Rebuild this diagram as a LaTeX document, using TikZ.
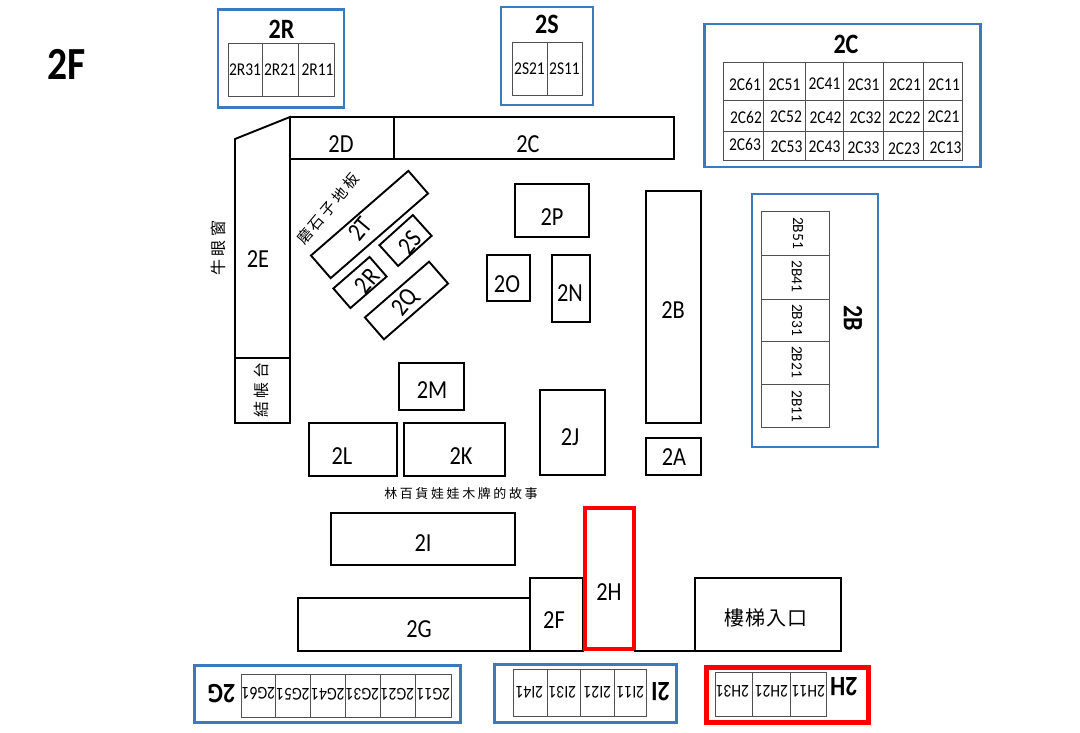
\documentclass[tikz,border=0pt]{standalone}
\usepackage{fontspec}
\setmainfont{Carlito}
\newfontfamily\narrowfont[FakeStretch=0.86]{Carlito}
\newfontfamily\cjkfont[LetterSpace=20]{Noto Sans CJK TC}
\newfontfamily\cjktight[LetterSpace=5]{Noto Sans CJK TC}
\definecolor{panelblue}{HTML}{3A7ABD}
\definecolor{celldark}{HTML}{505050}
\begin{document}
\begin{tikzpicture}[
    x=1pt, y=-1pt,
    % Define styles
    shop/.style={rectangle, draw=black, line width=1.9pt, inner sep=0pt, outer sep=0pt},
    hotshop/.style={rectangle, draw=red, line width=4.4pt, inner sep=0pt, outer sep=0pt},
    panel/.style={rectangle, draw=panelblue, line width=2.1pt, inner sep=0pt, outer sep=0pt},
    hotpanel/.style={rectangle, draw=red, line width=4.6pt, inner sep=0pt, outer sep=0pt},
    wall/.style={draw=black, line width=1.9pt, line join=miter},
    cellline/.style={draw=celldark, line width=0.9pt},
    shoptext/.style={font=\fontsize{26}{26}\selectfont\narrowfont, inner sep=0pt},
    celltext/.style={font=\fontsize{18}{18}\selectfont\narrowfont, inner sep=0pt},
    sidetext/.style={font=\fontsize{15.5}{16}\selectfont, inner sep=0pt},
    paneltitle/.style={font=\fontsize{28}{28}\selectfont\narrowfont\bfseries, inner sep=0pt},
    cjktext/.style={font=\fontsize{13}{13}\selectfont\cjkfont, inner sep=0pt},
    cjklarge/.style={font=\fontsize{16}{16}\selectfont\cjkfont, inner sep=0pt}
]
\useasboundingbox (0,0) rectangle (1080,733);

% Floor title
\node[font=\fontsize{46}{46}\selectfont\narrowfont\bfseries, inner sep=0pt] (floor_title) at (67,64) {2F};

% Panel 2R
\node[panel, minimum width=126pt, minimum height=98pt] (panel_2R) at (281,58.5) {};
\node[paneltitle] (title_2R) at (281.5,29) {2R};
\draw[cellline] (228,43) rectangle (334,96);
\draw[cellline] (262.5,43) -- (262.5,96);
\draw[cellline] (298.5,43) -- (298.5,96);
\node[celltext] (cell_2R31) at (245,69.5) {2R31};
\node[celltext] (cell_2R21) at (280,69.5) {2R21};
\node[celltext] (cell_2R11) at (317.5,69.5) {2R11};

% Panel 2S
\node[panel, minimum width=92pt, minimum height=98pt] (panel_2S) at (547,56) {};
\node[paneltitle] (title_2S) at (547,24.5) {2S};
\draw[cellline] (512,42) rectangle (582,95);
\draw[cellline] (547,42) -- (547,95);
\node[celltext] (cell_2S21) at (529.5,69) {2S21};
\node[celltext] (cell_2S11) at (564.5,69) {2S11};

% Panel 2C
\node[panel, minimum width=276pt, minimum height=143pt] (panel_2C) at (842.5,95.5) {};
\node[paneltitle] (title_2C) at (846,44) {2C};
\draw[cellline] (723.5,62.5) rectangle (962.5,160.5);
\draw[cellline] (763.5,62.5) -- (763.5,160.5);
\draw[cellline] (805.5,62.5) -- (805.5,160.5);
\draw[cellline] (843.5,62.5) -- (843.5,160.5);
\draw[cellline] (883.5,62.5) -- (883.5,160.5);
\draw[cellline] (923.5,62.5) -- (923.5,160.5);
\draw[cellline] (723,100.5) -- (962.5,100.5);
\draw[cellline] (722.5,131) -- (962.5,131);
\node[celltext] (cell_2C61) at (745,84.5) {2C61};
\node[celltext] (cell_2C51) at (784.5,84.5) {2C51};
\node[celltext] (cell_2C41) at (824.5,84) {2C41};
\node[celltext] (cell_2C31) at (863.5,85) {2C31};
\node[celltext] (cell_2C21) at (905,85) {2C21};
\node[celltext] (cell_2C11) at (944,85) {2C11};
\node[celltext] (cell_2C62) at (746,117) {2C62};
\node[celltext] (cell_2C52) at (786,116.5) {2C52};
\node[celltext] (cell_2C42) at (825.5,117.5) {2C42};
\node[celltext] (cell_2C32) at (865.5,117.5) {2C32};
\node[celltext] (cell_2C22) at (904.5,117.5) {2C22};
\node[celltext] (cell_2C21b) at (943.5,117) {2C21};
\node[celltext] (cell_2C63) at (745,144.5) {2C63};
\node[celltext] (cell_2C53) at (786.5,147) {2C53};
\node[celltext] (cell_2C43) at (824.5,146.5) {2C43};
\node[celltext] (cell_2C33) at (863.5,147.5) {2C33};
\node[celltext] (cell_2C23) at (904,148.5) {2C23};
\node[celltext] (cell_2C13) at (945.5,147.5) {2C13};

% Panel 2B
\node[panel, minimum width=126pt, minimum height=253pt] (panel_2B) at (815,320.5) {};
\node[paneltitle, rotate=-90] (title_2B) at (853,318) {2B};
\draw[cellline] (761,211) rectangle (829.5,427.5);
\draw[cellline] (761,255) -- (829.5,255);
\draw[cellline] (761,299.5) -- (829.5,299.5);
\draw[cellline] (761,341) -- (829.5,341);
\draw[cellline] (761,384.5) -- (829.5,384.5);
\node[sidetext, rotate=-90] (cell_2B51) at (798,233) {2B51};
\node[sidetext, rotate=-90] (cell_2B41) at (797,276.5) {2B41};
\node[sidetext, rotate=-90] (cell_2B31) at (797,320) {2B31};
\node[sidetext, rotate=-90] (cell_2B21) at (797,362) {2B21};
\node[sidetext, rotate=-90] (cell_2B11) at (797,406.5) {2B11};

% Panel 2G
\node[panel, minimum width=266pt, minimum height=57pt] (panel_2G) at (327.5,694) {};
\node[paneltitle, rotate=180] (title_2G) at (221.5,693.5) {2G};
\draw[cellline] (241,674) rectangle (451,717.5);
\draw[cellline] (275.5,674) -- (275.5,717.5);
\draw[cellline] (310.5,674) -- (310.5,717.5);
\draw[cellline] (345.5,674) -- (345.5,717.5);
\draw[cellline] (380,674) -- (380,717.5);
\draw[cellline] (415.5,674) -- (415.5,717.5);
\node[celltext, rotate=180] (cell_2G61) at (258.5,694) {2G61};
\node[celltext, rotate=180] (cell_2G51) at (293,694) {2G51};
\node[celltext, rotate=180] (cell_2G41) at (328,694) {2G41};
\node[celltext, rotate=180] (cell_2G31) at (362.5,694) {2G31};
\node[celltext, rotate=180] (cell_2G21) at (397.5,694) {2G21};
\node[celltext, rotate=180] (cell_2G11) at (433.5,694) {2G11};

% Panel 2I
\node[panel, minimum width=182pt, minimum height=58pt] (panel_2I) at (585.5,693.5) {};
\node[paneltitle, rotate=180] (title_2I) at (660.5,692) {2I};
\draw[cellline] (513.5,669.5) rectangle (646.5,716.5);
\draw[cellline] (547,669.5) -- (547,716.5);
\draw[cellline] (580.5,669.5) -- (580.5,716.5);
\draw[cellline] (614.5,669.5) -- (614.5,716.5);
\node[celltext, rotate=180] (cell_2I41) at (529.5,692.5) {2I41};
\node[celltext, rotate=180] (cell_2I31) at (562.5,692.5) {2I31};
\node[celltext, rotate=180] (cell_2I21) at (597.5,692.5) {2I21};
\node[celltext, rotate=180] (cell_2I11) at (630.5,692.5) {2I11};

% Panel 2H
\node[hotpanel, minimum width=162pt, minimum height=55pt] (panel_2H) at (787.5,695) {};
\node[paneltitle, rotate=180] (title_2H) at (844,687) {2H};
\draw[cellline] (715.5,672.5) rectangle (826.5,716.5);
\draw[cellline] (752.5,672.5) -- (752.5,716.5);
\draw[cellline] (790.5,672.5) -- (790.5,716.5);
\node[celltext, rotate=180] (cell_2H31) at (732.5,691.5) {2H31};
\node[celltext, rotate=180] (cell_2H21) at (771.5,691.5) {2H21};
\node[celltext, rotate=180] (cell_2H11) at (808.5,691.5) {2H11};

% Top wall shops
\node[shop, minimum width=104pt, minimum height=42pt] (box_2D) at (342,138) {};
\node[shoptext] (text_2D) at (341,144) {2D};
\node[shop, minimum width=280pt, minimum height=42pt] (box_2C) at (534,138) {};
\node[shoptext] (text_2C) at (528,144) {2C};

% Left wall shops
\draw[wall] (235,139) -- (290,117) -- (290,358) -- (235,358) -- cycle;
\node[shoptext] (text_2E) at (258,259) {2E};
\node[shop, minimum width=55pt, minimum height=65pt] (box_counter) at (262.5,390.5) {};
\node[cjklarge, rotate=90] (text_counter) at (261,390) {結帳台};
\node[cjklarge, rotate=90] (text_window) at (218,248) {牛眼窗};

% Tilted shops
\node[cjklarge, font=\fontsize{15}{15}\selectfont\cjkfont, rotate=50] (text_floor) at (328,209) {磨石子地板};
\node[shop, rotate=41, minimum width=129pt, minimum height=30pt] (box_2T) at (369.5,224.5) {};
\node[shoptext, rotate=50] (text_2T) at (360,229) {2T};
\node[shop, rotate=42, minimum width=45pt, minimum height=28pt] (box_2S) at (405.5,240.5) {};
\node[shoptext, rotate=50] (text_2S) at (410,243) {2S};
\node[shop, rotate=41, minimum width=48pt, minimum height=26pt] (box_2R) at (360,282.5) {};
\node[shoptext, rotate=50] (text_2R) at (367,281) {2R};
\node[shop, rotate=41, minimum width=85pt, minimum height=29pt] (box_2Q) at (406.5,300.5) {};
\node[shoptext, rotate=50] (text_2Q) at (406,303) {2Q};

% Middle shops
\node[shop, minimum width=74pt, minimum height=53pt] (box_2P) at (552,210.5) {};
\node[shoptext] (text_2P) at (552,217) {2P};
\node[shop, minimum width=43pt, minimum height=46pt] (box_2O) at (508.5,278) {};
\node[shoptext] (text_2O) at (507,284) {2O};
\node[shop, minimum width=38pt, minimum height=67pt] (box_2N) at (571,288.5) {};
\node[shoptext] (text_2N) at (570,293) {2N};
\node[shop, minimum width=55pt, minimum height=232pt] (box_2B) at (673.5,307) {};
\node[shoptext] (text_2B) at (673,310) {2B};
\node[shop, minimum width=55pt, minimum height=37pt] (box_2A) at (673.5,456.5) {};
\node[shoptext] (text_2A) at (674,457) {2A};
\node[shop, minimum width=65pt, minimum height=47pt] (box_2M) at (431.5,386.5) {};
\node[shoptext] (text_2M) at (432,390) {2M};
\node[shop, minimum width=88pt, minimum height=53pt] (box_2L) at (353,449.5) {};
\node[shoptext] (text_2L) at (342,456) {2L};
\node[shop, minimum width=101pt, minimum height=53pt] (box_2K) at (454.5,449.5) {};
\node[shoptext] (text_2K) at (461,456) {2K};
\node[shop, minimum width=65pt, minimum height=85pt] (box_2J) at (572.5,432.5) {};
\node[shoptext] (text_2J) at (570,437) {2J};

% Bottom shops
\node[cjktext] (text_story) at (461,494) {林百貨娃娃木牌的故事};
\node[shop, minimum width=184pt, minimum height=52pt] (box_2I) at (423,539) {};
\node[shoptext] (text_2I) at (423,543) {2I};
\node[shop, minimum width=232pt, minimum height=53pt] (box_2G) at (414,624.5) {};
\node[shoptext] (text_2G) at (419,629) {2G};
\node[shop, minimum width=53pt, minimum height=73pt] (box_2F) at (556.5,614.5) {};
\node[shoptext] (text_2F) at (554,620) {2F};
\node[hotshop, minimum width=49pt, minimum height=141pt] (box_2H) at (609.5,578.5) {};
\node[shoptext] (text_2H) at (609,592) {2H};
\node[shop, minimum width=146pt, minimum height=73pt] (box_stairs) at (768,614.5) {};
\node[cjklarge, font=\fontsize{20}{20}\selectfont\cjktight] (text_stairs) at (766,618) {樓梯入口};

% Wall between 2H and the stairs
\draw[wall] (box_2H.south east |- box_stairs.south west) -- (box_stairs.south west);

\end{tikzpicture}
\end{document}
